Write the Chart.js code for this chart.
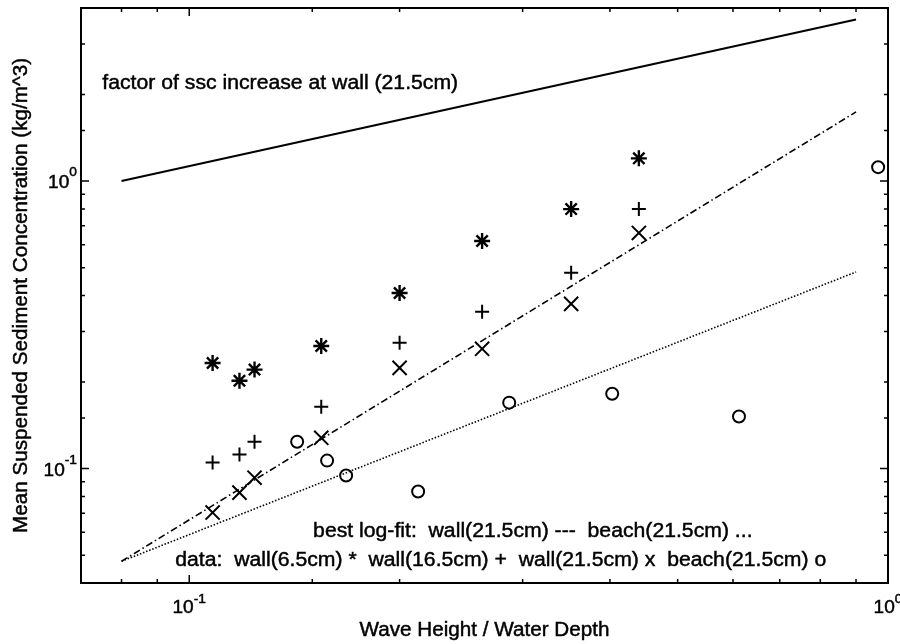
<!DOCTYPE html>
<html>
<head>
<meta charset="utf-8">
<script src="https://cdn.jsdelivr.net/npm/chart.js@4.4.1/dist/chart.umd.min.js"></script>
<style>
  html,body{margin:0;padding:0;background:#fff;}
  #wrap{width:900px;height:644px;position:relative;}
</style>
</head>
<body>
<div id="wrap"><canvas id="c"></canvas></div>
<script>
const wallX    = [0.108, 0.118, 0.124, 0.1545, 0.2, 0.2625, 0.352, 0.44];
const wall65   = [0.233, 0.202, 0.221, 0.267, 0.408, 0.619, 0.799, 1.20];
const wall165  = [0.105, 0.112, 0.124, 0.164, 0.274, 0.351, 0.480, 0.799];
const wall215  = [0.0703, 0.0825, 0.093, 0.128, 0.224, 0.261, 0.374, 0.66];
const beachX   = [0.1427, 0.1575, 0.1677, 0.2126, 0.287, 0.403, 0.612, 0.968];
const beach215 = [0.124, 0.1066, 0.0946, 0.0832, 0.1696, 0.182, 0.1517, 1.118];
// fitted power laws (end points) and their ratio
const fitX      = [0.08, 0.9];
const wallFit   = [0.0476, 1.74];
const beachFit  = [0.0476, 0.483];
const factorFit = [1.0, 3.65];
// decade tick labels
const decadeVals = [0.1, 1];
const decadeExps = ['-1', '0'];
const xTitle = 'Wave Height / Water Depth';
const yTitle = 'Mean Suspended Sediment Concentration (kg/m^3)';
const notes = [
  'factor of ssc increase at wall (21.5cm)',
  'best log-fit:  wall(21.5cm) ---  beach(21.5cm) ...',
  'data:  wall(6.5cm) *  wall(16.5cm) +  wall(21.5cm) x  beach(21.5cm) o'
];

const pts = (xs, ys) => xs.map((x, i) => ({x, y: ys[i]}));
const FONT = '"Liberation Sans", Arial, sans-serif';
const SX = 1.06; // the scanned lettering is a bit wide

const wideText = (ctx, txt, x, y, align, rot) => {
  ctx.save();
  ctx.translate(x, y);
  if (rot) ctx.rotate(rot);
  ctx.scale(SX, 1);
  ctx.textAlign = align;
  ctx.fillText(txt, 0, 0);
  ctx.lineWidth = 0.45;
  ctx.strokeText(txt, 0, 0);
  ctx.restore();
};

const isDecade = v => Math.abs(Math.log10(v) - Math.round(Math.log10(v))) < 1e-6;

const axesPlugin = {
  id: 'axesPlugin',
  afterDraw(chart) {
    const {ctx, chartArea: a, scales: {x, y}} = chart;
    ctx.save();
    ctx.strokeStyle = '#000';
    ctx.fillStyle = '#000';
    ctx.lineWidth = 1.5;
    ctx.beginPath();
    x.ticks.forEach(t => {
      const px = x.getPixelForValue(t.value);
      if (px <= a.left + 1 || px >= a.right - 1) return;
      const len = isDecade(t.value) ? 8 : 4;
      ctx.moveTo(px, a.bottom); ctx.lineTo(px, a.bottom - len);
      ctx.moveTo(px, a.top); ctx.lineTo(px, a.top + len);
    });
    y.ticks.forEach(t => {
      const py = y.getPixelForValue(t.value);
      if (py <= a.top + 1 || py >= a.bottom - 1) return;
      const len = isDecade(t.value) ? 8 : 4;
      ctx.moveTo(a.left, py); ctx.lineTo(a.left + len, py);
      ctx.moveTo(a.right, py); ctx.lineTo(a.right - len, py);
    });
    ctx.stroke();
    ctx.lineWidth = 2;
    ctx.strokeRect(a.left, a.top, a.right - a.left, a.bottom - a.top);

    // decade labels 10^n
    ctx.textBaseline = 'alphabetic';
    const baseFont = '18px ' + FONT, expFont = '13px ' + FONT;
    const widths = (exp) => {
      ctx.font = baseFont; const bw = ctx.measureText('10').width * SX;
      ctx.font = expFont; const ew = ctx.measureText(exp).width * SX;
      return [bw, ew];
    };
    decadeVals.forEach((v, i) => {
      const [bw, ew] = widths(decadeExps[i]);
      const px = x.getPixelForValue(v);
      const x0 = px - (bw + ew) / 2;
      ctx.font = baseFont; wideText(ctx, '10', x0, a.bottom + 30, 'left');
      ctx.font = expFont; wideText(ctx, decadeExps[i], x0 + bw, a.bottom + 20, 'left');
      const py = y.getPixelForValue(v);
      const r = a.left - 4;
      ctx.font = baseFont; wideText(ctx, '10', r - ew, py + 7, 'right');
      ctx.font = expFont; wideText(ctx, decadeExps[i], r - ew, py - 5, 'left');
    });

    // axis titles
    ctx.font = '19.5px ' + FONT;
    ctx.textBaseline = 'middle';
    wideText(ctx, xTitle, (a.left + a.right) / 2, 631, 'center');
    wideText(ctx, yTitle, 22, (a.top + a.bottom) / 2, 'center', -Math.PI / 2);

    // notes placed in data coordinates
    ctx.font = '20px ' + FONT;
    const noteAt = [[0.0751, 2.09], [0.1504, 0.0576], [0.0955, 0.0457]];
    ctx.textBaseline = 'alphabetic';
    notes.forEach((n, i) => {
      wideText(ctx, n, x.getPixelForValue(noteAt[i][0]), y.getPixelForValue(noteAt[i][1]), 'left');
    });
    ctx.restore();
  }
};

const lineSet = (ys, dash, w) => ({
  data: pts(fitX, ys), showLine: true, pointRadius: 0, borderColor: '#000',
  borderWidth: w, borderDash: dash, fill: false
});
const markSet = (xs, ys, style, r, w) => ({
  data: pts(xs, ys), showLine: false, pointStyle: style, pointRadius: r,
  borderColor: '#000', backgroundColor: 'rgba(0,0,0,0)', borderWidth: w
});

new Chart(document.getElementById('c').getContext('2d'), {
  type: 'scatter',
  data: {
    datasets: [
      lineSet(factorFit, [], 2),
      lineSet(wallFit, [7, 3, 1.5, 3], 1.6),
      lineSet(beachFit, [1.5, 1.8], 1.6),
      markSet(wallX, wall65, 'star', 8, 2.4),
      markSet(wallX, wall165, 'cross', 7, 2),
      markSet(wallX, wall215, 'crossRot', 10, 2),
      markSet(beachX, beach215, 'circle', 6, 2)
    ]
  },
  options: {
    responsive: true,
    maintainAspectRatio: false,
    animation: false,
    layout: {autoPadding: false, padding: {top: 8, right: 12, left: 0, bottom: 0}},
    plugins: {legend: {display: false}, tooltip: {enabled: false}},
    scales: {
      x: {
        type: 'logarithmic', min: 0.07, max: 1,
        grid: {display: false}, border: {display: false},
        ticks: {display: false, autoSkip: false},
        afterFit: s => { s.height = 61; }
      },
      y: {
        type: 'logarithmic', min: 0.04, max: 4,
        grid: {display: false}, border: {display: false},
        ticks: {display: false, autoSkip: false},
        afterFit: s => { s.width = 81; }
      }
    }
  },
  plugins: [axesPlugin]
});
</script>
</body>
</html>
